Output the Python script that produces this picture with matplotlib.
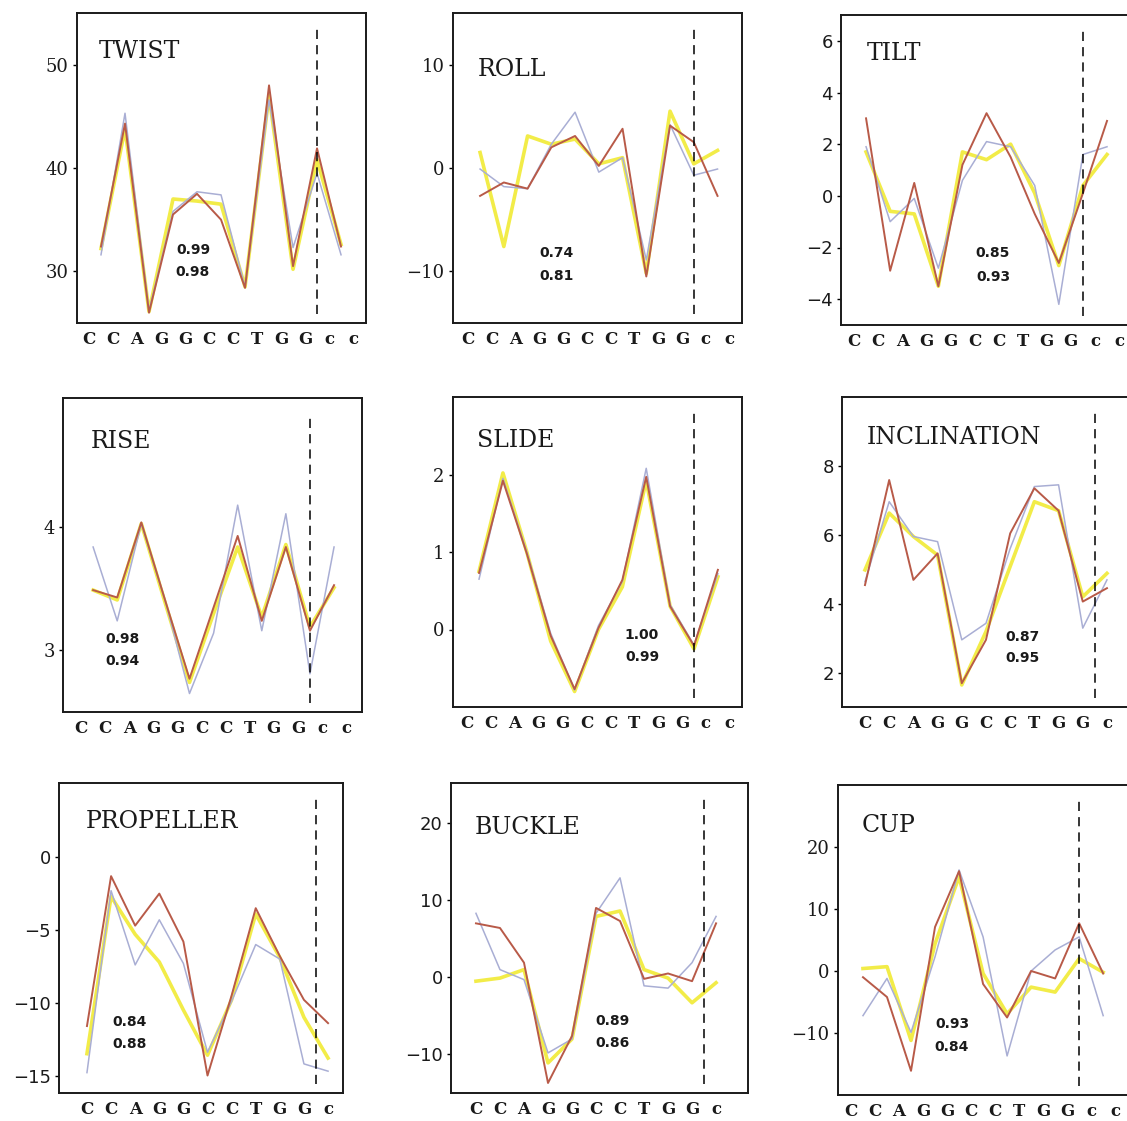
import matplotlib
matplotlib.use("Agg")
import matplotlib.pyplot as plt

W, H = 1127, 1121

# Sequence labels (upper case: strand shown, lower case: flanking bases)
seq_12 = ["C", "C", "A", "G", "G", "C", "C", "T", "G", "G", "c", "c"]
seq_11 = seq_12[:11]

# ---- base-pair step parameters (11 steps) ----
twist_yellow = [32.2, 43.8, 26.1, 37.0, 36.8, 36.5, 28.5, 47.0, 30.2, 40.8, 32.6]
twist_blue = [31.6, 45.3, 26.2, 35.8, 37.7, 37.4, 28.5, 46.6, 32.3, 39.5, 31.6]
twist_red = [32.4, 44.3, 26.0, 35.5, 37.5, 35.0, 28.4, 48.0, 30.5, 41.9, 32.4]

roll_yellow = [1.5, -7.6, 3.1, 2.3, 2.8, 0.4, 1.0, -10.2, 5.5, 0.4, 1.7]
roll_blue = [-0.1, -1.8, -2.0, 2.3, 5.4, -0.4, 1.0, -8.9, 4.2, -0.7, -0.1]
roll_red = [-2.7, -1.4, -2.0, 2.0, 3.1, 0.2, 3.8, -10.5, 4.1, 2.5, -2.7]

tilt_yellow = [1.7, -0.6, -0.7, -3.5, 1.7, 1.4, 2.0, 0.1, -2.7, 0.4, 1.6]
tilt_blue = [1.9, -1.0, -0.1, -2.8, 0.6, 2.1, 1.9, 0.4, -4.2, 1.6, 1.9]
tilt_red = [3.0, -2.9, 0.5, -3.5, 1.2, 3.2, 1.5, -0.7, -2.6, 0.1, 2.9]

rise_yellow = [3.49, 3.41, 4.03, 3.38, 2.74, 3.30, 3.84, 3.27, 3.86, 3.19, 3.51]
rise_blue = [3.84, 3.24, 4.03, 3.40, 2.65, 3.14, 4.18, 3.16, 4.11, 2.81, 3.84]
rise_red = [3.49, 3.43, 4.04, 3.40, 2.77, 3.35, 3.93, 3.24, 3.84, 3.16, 3.53]

slide_yellow = [0.75, 2.02, 1.00, -0.15, -0.80, 0.00, 0.55, 1.92, 0.30, -0.25, 0.68]
slide_blue = [0.65, 1.95, 1.00, -0.05, -0.78, 0.05, 0.62, 2.08, 0.32, -0.20, 0.72]
slide_red = [0.73, 1.92, 0.98, -0.08, -0.77, 0.02, 0.64, 1.97, 0.30, -0.21, 0.77]

cup_yellow = [0.4, 0.7, -11.2, 4.4, 15.2, -0.4, -6.9, -2.6, -3.4, 2.0, -0.2]
cup_blue = [-7.2, -1.2, -9.9, 2.3, 16.3, 5.5, -13.7, 0.0, 3.4, 5.5, -7.2]
cup_red = [-1.0, -4.2, -16.1, 7.1, 16.1, -2.1, -7.5, 0.0, -1.2, 7.7, -0.4]

# ---- base-pair parameters (11 base pairs) ----
incl_yellow = [4.98, 6.63, 5.95, 5.41, 1.64, 3.19, 5.08, 6.96, 6.70, 4.20, 4.88]
incl_blue = [4.64, 6.96, 5.95, 5.80, 2.95, 3.43, 5.60, 7.40, 7.45, 3.29, 4.69]
incl_red = [4.54, 7.59, 4.69, 5.46, 1.69, 2.95, 6.04, 7.35, 6.70, 4.06, 4.45]

prop_yellow = [-13.5, -2.7, -5.3, -7.2, -10.5, -13.6, -9.8, -3.9, -6.9, -11.0, -13.8]
prop_blue = [-14.8, -2.3, -7.4, -4.3, -7.3, -13.4, -9.9, -6.0, -7.0, -14.2, -14.7]
prop_red = [-11.6, -1.3, -4.7, -2.5, -5.8, -15.0, -9.5, -3.5, -6.8, -9.8, -11.4]

buckle_yellow = [-0.5, -0.1, 1.0, -11.1, -8.0, 7.9, 8.6, 1.0, -0.1, -3.3, -0.7]
buckle_blue = [8.3, 1.0, -0.3, -9.8, -8.0, 8.3, 12.9, -1.1, -1.4, 1.9, 7.9]
buckle_red = [7.0, 6.4, 1.9, -13.7, -7.6, 9.0, 7.3, -0.2, 0.5, -0.5, 7.0]

# correlation coefficients printed in each panel
corr_top = ["0.99", "0.74", "0.85", "0.98", "1.00", "0.87", "0.84", "0.89", "0.93"]
corr_bottom = ["0.98", "0.81", "0.93", "0.94", "0.99", "0.95", "0.88", "0.86", "0.84"]

titles = ["TWIST", "ROLL", "TILT", "RISE", "SLIDE", "INCLINATION",
          "PROPELLER", "BUCKLE", "CUP"]

series = [
    (twist_yellow, twist_blue, twist_red),
    (roll_yellow, roll_blue, roll_red),
    (tilt_yellow, tilt_blue, tilt_red),
    (rise_yellow, rise_blue, rise_red),
    (slide_yellow, slide_blue, slide_red),
    (incl_yellow, incl_blue, incl_red),
    (prop_yellow, prop_blue, prop_red),
    (buckle_yellow, buckle_blue, buckle_red),
    (cup_yellow, cup_blue, cup_red),
]

# step parameters sit between bases, base-pair parameters on the bases
is_step = [True, True, True, True, True, False, False, False, True]

# layout: frame (left, top, right, bottom) in pixels, x range, y range, ticks
frames = [
    (77, 13, 366, 323), (453, 13, 742, 323), (841, 15, 1134, 325),
    (63, 398, 362, 712), (453, 397, 742, 707), (842, 397, 1136, 707),
    (59, 783, 343, 1093), (451, 783, 748, 1093), (838, 785, 1132, 1095),
]
xlims = [(-0.5, 11.54), (-0.64, 11.53), (-0.54, 11.62),
         (-0.75, 11.66), (-0.59, 11.51), (-0.95, 11.2),
         (-1.16, 10.62), (-1.04, 11.33), (-0.54, 11.7)]
ylims = [(25, 55), (-15, 15), (-5, 7), (2.5, 5.05), (-1, 3), (1, 10),
         (-16.2, 5.1), (-15, 25.2), (-20, 30)]
yticks = [[30, 40, 50], [-10, 0, 10], [-4, -2, 0, 2, 4, 6], [3, 4], [0, 1, 2],
          [2, 4, 6, 8], [-15, -10, -5, 0], [-10, 0, 10, 20], [-10, 0, 10, 20]]
sans_ticks = [False, False, True, False, False, True, True, True, False]
title_pos = [(99, 52), (478, 70), (867, 54), (91, 442), (477, 440), (867, 438),
             (86, 822), (475, 827), (862, 825)]
corr_pos = [(193, 250, 272), (557, 253, 276), (993, 253, 277),
            (123, 639, 661), (642, 635, 657), (1023, 637, 658),
            (130, 1022, 1044), (613, 1021, 1043), (952, 1024, 1047)]

C_YELLOW = "#f2ec48"
C_BLUE = "#a9aed4"
C_RED = "#b85a48"
SERIF = ["DejaVu Serif"]
SANS = ["DejaVu Sans"]

fig = plt.figure(figsize=(W / 100, H / 100), dpi=100)
fig.patch.set_facecolor("white")


def fx(px):
    return px / W


def fy(py):
    return 1 - py / H


for k in range(9):
    l, t, r, b = frames[k]
    ax = fig.add_axes([fx(l), fy(b), (r - l) / W, (b - t) / H])
    ax.set_facecolor("white")
    labels = seq_12 if is_step[k] else seq_11
    off = 0.5 if is_step[k] else 0.0
    xs = [i + off for i in range(11)]
    yel, blu, red = series[k]
    ax.plot(xs, yel, color=C_YELLOW, lw=2.6, zorder=2)
    ax.plot(xs, blu, color=C_BLUE, lw=1.1, zorder=3)
    ax.plot(xs, red, color=C_RED, lw=1.4, zorder=4)

    # junction between the strand and the flanking bases
    ax.axvline(9.5, ymin=0.03, ymax=0.95, color="black", lw=1.1,
               dashes=(6, 4), zorder=5)

    ax.set_xlim(*xlims[k])
    ax.set_ylim(*ylims[k])
    ax.set_xticks(range(len(labels)))
    ax.set_xticklabels(labels, family=SERIF, fontsize=12, fontweight="bold",
                       color="#1a1a1a")
    ax.tick_params(axis="x", length=0, pad=6)
    ax.set_yticks(yticks[k])
    ax.tick_params(axis="y", length=3, width=1, direction="out", pad=3,
                   labelsize=13, labelcolor="#1a1a1a")
    for lab in ax.get_yticklabels():
        lab.set_family(SANS if sans_ticks[k] else SERIF)
    for sp in ax.spines.values():
        sp.set_linewidth(1.4)
        sp.set_color("#1a1a1a")

    tx, ty = title_pos[k]
    fig.text(fx(tx), fy(ty), titles[k], family=SERIF, fontsize=17,
             ha="left", va="center", color="#1a1a1a")
    cx, cy1, cy2 = corr_pos[k]
    fig.text(fx(cx), fy(cy1), corr_top[k], family=SANS, fontsize=10,
             fontweight="bold", ha="center", va="center", color="#1a1a1a")
    fig.text(fx(cx), fy(cy2), corr_bottom[k], family=SANS, fontsize=10,
             fontweight="bold", ha="center", va="center", color="#1a1a1a")

fig.savefig("out.png", dpi=100, facecolor="white")
